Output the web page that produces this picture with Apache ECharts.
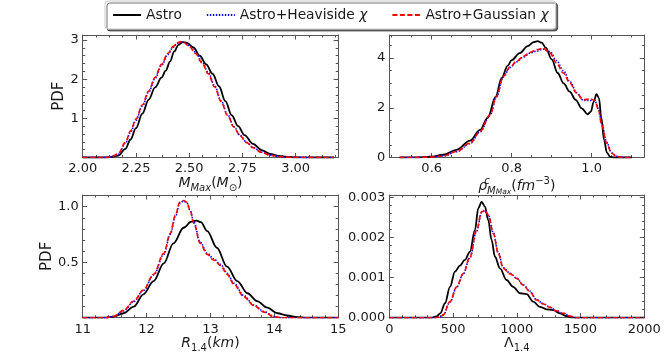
<!DOCTYPE html>
<html><head><meta charset="utf-8">
<script src="https://cdn.jsdelivr.net/npm/echarts@6/dist/echarts.min.js"></script>
<style>html,body{margin:0;padding:0;background:#fff}#c{width:664px;height:354px}</style>
</head><body><div id="c"></div>
<script>
// ---------- DATA ----------
const seriesNames = ['Astro', 'Astro+Heaviside χ', 'Astro+Gaussian χ'];

// Panel 1: M_Max
const mmaxTicks = [2.00, 2.25, 2.50, 2.75, 3.00];
const mmaxPdfTicks = [1, 2, 3];
const mmaxX_astro = [2.00,2.10,2.13,2.167,2.20,2.225,2.25,2.28,2.31,2.34,2.37,2.39,2.41,2.43,2.45,2.47,2.49,2.52,2.55,2.58,2.61,2.64,2.67,2.70,2.73,2.76,2.80,2.84,2.88,2.92,2.96,3.00,3.05,3.18];
const mmaxY_astro = [0,0,0.01,0.05,0.22,0.46,0.75,1.12,1.48,1.79,2.04,2.22,2.45,2.71,2.88,2.95,2.93,2.81,2.60,2.38,2.14,1.82,1.44,1.08,0.80,0.57,0.35,0.19,0.09,0.04,0.015,0.005,0,0];
const mmaxX_heav = [2.00,2.10,2.13,2.167,2.20,2.225,2.25,2.28,2.31,2.34,2.37,2.40,2.425,2.445,2.465,2.48,2.50,2.53,2.56,2.59,2.62,2.65,2.68,2.71,2.74,2.77,2.80,2.84,2.88,2.92,2.96,3.00,3.05,3.18];
const mmaxY_heav = [0,0,0.012,0.08,0.36,0.65,0.95,1.31,1.67,2.02,2.35,2.63,2.82,2.92,2.96,2.93,2.86,2.69,2.45,2.17,1.83,1.45,1.10,0.79,0.56,0.39,0.26,0.135,0.062,0.026,0.01,0.003,0,0];
const mmaxX_gaus = [2.00,2.10,2.13,2.167,2.20,2.225,2.25,2.28,2.31,2.34,2.37,2.40,2.425,2.445,2.46,2.475,2.50,2.53,2.56,2.59,2.62,2.65,2.68,2.71,2.74,2.77,2.80,2.84,2.88,2.92,2.96,3.00,3.05,3.18];
const mmaxY_gaus = [0,0,0.015,0.09,0.38,0.68,0.98,1.34,1.70,2.05,2.38,2.66,2.84,2.93,2.96,2.94,2.84,2.66,2.42,2.14,1.80,1.43,1.08,0.78,0.55,0.38,0.25,0.13,0.06,0.025,0.01,0.003,0,0];

// Panel 2: rho_c at M_Max
const rhoTicks = [0.6, 0.8, 1.0];
const rhoPdfTicks = [0, 2, 4];
const rhoX_astro = [0.52,0.56,0.596,0.629,0.662,0.696,0.721,0.74,0.76,0.775,0.79,0.80,0.82,0.84,0.855,0.865,0.875,0.885,0.90,0.915,0.93,0.945,0.96,0.975,0.99,0.998,1.005,1.012,1.018,1.024,1.031,1.038,1.046,1.055,1.10];
const rhoY_astro = [0,0.005,0.03,0.11,0.31,0.68,1.11,1.60,2.45,3.20,3.70,3.92,4.20,4.48,4.64,4.68,4.62,4.42,3.95,3.40,2.98,2.65,2.32,1.98,1.74,1.85,2.25,2.55,2.40,1.60,0.70,0.20,0.03,0,0];
const rhoX_heav = [0.52,0.56,0.596,0.629,0.662,0.696,0.721,0.746,0.762,0.779,0.796,0.812,0.829,0.846,0.862,0.879,0.896,0.912,0.929,0.946,0.962,0.979,0.996,1.008,1.017,1.025,1.037,1.05,1.062,1.079,1.10];
const rhoY_heav = [0,0.003,0.015,0.06,0.23,0.56,1.03,1.70,2.44,3.24,3.62,3.85,4.04,4.20,4.28,4.36,4.26,3.90,3.50,3.05,2.62,2.30,2.30,2.28,1.95,1.38,0.62,0.19,0.05,0,0];
const rhoX_gaus = [0.52,0.56,0.596,0.629,0.662,0.696,0.721,0.746,0.762,0.779,0.796,0.812,0.829,0.846,0.862,0.879,0.896,0.912,0.929,0.946,0.962,0.979,0.996,1.008,1.017,1.025,1.037,1.05,1.062,1.079,1.10];
const rhoY_gaus = [0,0.003,0.015,0.06,0.24,0.58,1.05,1.72,2.46,3.26,3.64,3.87,4.07,4.23,4.34,4.40,4.20,3.80,3.40,2.99,2.59,2.32,2.36,2.30,1.92,1.32,0.58,0.17,0.04,0,0];

// Panel 3: R_1.4
const rTicks = [11, 12, 13, 14, 15];
const rPdfTicks = [0.5, 1.0];
const rX_astro = [11.0,11.35,11.48,11.64,11.80,11.95,12.11,12.27,12.42,12.58,12.70,12.78,12.85,12.95,13.10,13.26,13.42,13.58,13.73,13.89,14.05,14.20,14.36,14.5,15.0];
const rY_astro = [0,0,0.01,0.04,0.10,0.21,0.33,0.49,0.67,0.81,0.865,0.875,0.86,0.78,0.63,0.46,0.33,0.22,0.15,0.09,0.04,0.02,0.005,0,0];
const rX_heav = [11.0,11.35,11.48,11.64,11.80,11.95,12.11,12.27,12.37,12.45,12.52,12.58,12.63,12.68,12.74,12.84,12.95,13.05,13.16,13.26,13.37,13.52,13.68,13.84,13.99,14.10,15.0];
const rY_heav = [0,0,0.01,0.06,0.145,0.245,0.385,0.57,0.75,0.91,1.03,1.05,1.035,0.97,0.86,0.68,0.58,0.53,0.48,0.40,0.31,0.20,0.115,0.055,0.012,0,0];
const rX_gaus = [11.0,11.35,11.48,11.64,11.80,11.95,12.11,12.27,12.37,12.45,12.52,12.58,12.63,12.68,12.74,12.84,12.95,13.05,13.16,13.26,13.37,13.52,13.68,13.84,13.99,14.10,15.0];
const rY_gaus = [0,0,0.01,0.066,0.15,0.25,0.39,0.58,0.76,0.92,1.04,1.055,1.04,0.97,0.85,0.67,0.57,0.52,0.47,0.39,0.30,0.19,0.11,0.05,0.01,0,0];

// Panel 4: Lambda_1.4
const lTicks = [0, 500, 1000, 1500, 2000];
const lPdfTicks = [0, 0.001, 0.002, 0.003];
const lX_astro = [0,330,370,400,437,476,515,554,593,633,672,698,724,750,776,802,829,868,920,972,1025,1077,1129,1181,1234,1286,1338,1391,1443,2000];
const lY_astro = [0,0,0.00003,0.00011,0.00036,0.00077,0.00115,0.0013,0.00144,0.00165,0.00219,0.00273,0.00289,0.00277,0.00244,0.00194,0.00152,0.00123,0.00094,0.00077,0.00061,0.00059,0.0004,0.00027,0.00021,0.00019,0.00011,0.00004,0,0];
const lX_heav = [0,360,400,423,476,528,580,633,685,724,750,776,816,855,894,946,998,1051,1103,1155,1208,1260,1312,1365,1417,1469,2000];
const lY_heav = [0,0,0.00002,0.00007,0.00039,0.00076,0.00109,0.0015,0.00216,0.00262,0.00267,0.00257,0.00212,0.00162,0.00125,0.00111,0.00099,0.00082,0.00066,0.00045,0.00035,0.00026,0.00017,0.00011,0.00004,0,0];
const lX_gaus = [0,360,400,423,476,528,580,633,685,724,750,776,816,855,894,946,998,1051,1103,1155,1208,1260,1312,1365,1417,1469,2000];
const lY_gaus = [0,0,0.00002,0.00007,0.0004,0.00077,0.0011,0.00152,0.00219,0.00264,0.00268,0.00256,0.0021,0.0016,0.00123,0.0011,0.00098,0.00081,0.00065,0.00044,0.00034,0.00026,0.00017,0.00011,0.00004,0,0];

// ---------- LAYOUT / STYLE ----------
const FONT = 'DejaVu Sans';
const TXT = '#1a1a1a';
const AX = '#555';
const grids = [
  {left: 82.7, top: 35, width: 255.5, height: 122.5},
  {left: 389.3, top: 35, width: 255, height: 122.5},
  {left: 82.7, top: 195, width: 255.5, height: 122.7},
  {left: 389.3, top: 195, width: 255, height: 122.7}
];
function steps(a, b, s) { const o = []; for (let k = 0; ; k++) { const v = +(a + k * s).toFixed(8); if (v > b + 1e-12) break; o.push(v); } return o; }

const richBase = {
  n: {fontSize: 14, fontFamily: FONT, color: TXT, lineHeight: 20},
  i: {fontSize: 14, fontFamily: FONT, fontStyle: 'italic', color: TXT, lineHeight: 20},
  s: {fontSize: 10, fontFamily: FONT, fontStyle: 'italic', color: TXT, verticalAlign: 'bottom', lineHeight: 12},
  su: {fontSize: 10, fontFamily: FONT, color: TXT, verticalAlign: 'bottom', lineHeight: 12},
  ss: {fontSize: 7.5, fontFamily: FONT, fontStyle: 'italic', color: TXT, verticalAlign: 'bottom', lineHeight: 9},
  sp: {fontSize: 10, fontFamily: FONT, color: TXT, verticalAlign: 'top', lineHeight: 14},
  spi: {fontSize: 10, fontFamily: FONT, fontStyle: 'italic', color: TXT, verticalAlign: 'top', lineHeight: 13, width: 0}
};

const xAxes = [], yAxes = [];
function addAxes(list, dim, g, min, max, majors, minors, labels, fmt, name, nameGap) {
  const pos1 = dim === 'x' ? 'bottom' : 'left', pos2 = dim === 'x' ? 'top' : 'right';
  const common = {type: 'value', gridIndex: g, min: min, max: max, splitLine: {show: false}, minorTick: {show: false}};
  const primaryIndex = list.length;
  const prim = Object.assign({}, common, {
    position: pos1,
    axisLine: {show: true, onZero: false, lineStyle: {color: AX, width: 1}},
    axisTick: {show: true, inside: true, length: 4.5, customValues: majors, lineStyle: {color: AX, width: 1}},
    axisLabel: {show: true, customValues: labels, formatter: fmt, margin: dim === 'x' ? 5 : 4, fontSize: 13, fontFamily: FONT, color: TXT}
  });
  if (name) {
    prim.name = name.text;
    prim.nameLocation = 'middle';
    prim.nameGap = nameGap;
    prim.nameRotate = name.rotate || 0;
    prim.nameTextStyle = name.style;
  }
  list.push(prim);
  list.push(Object.assign({}, common, {position: pos1, axisLine: {show: false, onZero: false}, axisLabel: {show: false},
    axisTick: {show: true, inside: true, length: 2.5, customValues: minors, lineStyle: {color: AX, width: 1}}}));
  list.push(Object.assign({}, common, {position: pos2, axisLine: {show: true, onZero: false, lineStyle: {color: AX, width: 1}}, axisLabel: {show: false},
    axisTick: {show: true, inside: true, length: 4.5, customValues: majors, lineStyle: {color: AX, width: 1}}}));
  list.push(Object.assign({}, common, {position: pos2, axisLine: {show: false, onZero: false}, axisLabel: {show: false},
    axisTick: {show: true, inside: true, length: 2.5, customValues: minors, lineStyle: {color: AX, width: 1}}}));
  return primaryIndex;
}
const pdfName = {text: 'PDF', rotate: 90, style: {fontSize: 15, fontFamily: FONT, color: TXT}};

const panels = [
  {x: [2.0, 3.2, mmaxTicks, steps(2.0, 3.2, 0.0625), mmaxTicks, v => v.toFixed(2),
       {text: '{i|M}{s|Max}{n|(}{i|M}{su|⊙}{n|)}', style: {rich: richBase}}, 13],
   y: [0, 3.13, [0, 1, 2, 3], steps(0, 3.13, 0.2), mmaxPdfTicks, v => String(v), pdfName, 12],
   data: [[mmaxX_astro, mmaxY_astro], [mmaxX_heav, mmaxY_heav], [mmaxX_gaus, mmaxY_gaus]]},
  {x: [0.494, 1.1315, rhoTicks, steps(0.5, 1.13, 0.05), rhoTicks, v => v.toFixed(1),
       {text: '{i|ρ}{spi|c}{s|M}{ss|Max}{n|(}{i|fm}{sp|−3}{n|)}', style: {rich: richBase}}, 13],
   y: [0, 4.93, rhoPdfTicks, steps(0, 4.93, 0.5), rhoPdfTicks, v => String(v), null, 0],
   data: [[rhoX_astro, rhoY_astro], [rhoX_heav, rhoY_heav], [rhoX_gaus, rhoY_gaus]]},
  {x: [11, 15, rTicks, steps(11, 15, 0.2), rTicks, v => String(v),
       {text: '{i|R}{su|1.4}{n|(}{i|km}{n|)}', style: {rich: richBase}}, 13],
   y: [0, 1.105, [0, 0.5, 1.0], steps(0, 1.105, 0.1), rPdfTicks, v => v.toFixed(1), pdfName, 25],
   data: [[rX_astro, rY_astro], [rX_heav, rY_heav], [rX_gaus, rY_gaus]]},
  {x: [0, 2000, lTicks, steps(0, 2000, 100), lTicks, v => String(v),
       {text: '{n|Λ}{su|1.4}', style: {rich: richBase}}, 13],
   y: [0, 0.00306, lPdfTicks, steps(0, 0.00306, 0.0002), lPdfTicks, v => v.toFixed(3), null, 0],
   data: [[lX_astro, lY_astro], [lX_heav, lY_heav], [lX_gaus, lY_gaus]]}
];

const styles = [
  {color: '#000000', width: 1.8, type: 'solid'},
  {color: '#0000ff', width: 1.6, type: [1.4, 1.6]},
  {color: '#ff0000', width: 1.6, type: [5, 2.5]}
];
const series = [];
panels.forEach((p, g) => {
  const xi = addAxes(xAxes, 'x', g, p.x[0], p.x[1], p.x[2], p.x[3], p.x[4], p.x[5], p.x[6], p.x[7]);
  const yi = addAxes(yAxes, 'y', g, p.y[0], p.y[1], p.y[2], p.y[3], p.y[4], p.y[5], p.y[6], p.y[7]);
  p.data.forEach((d, k) => {
    series.push({
      name: seriesNames[k], type: 'line', xAxisIndex: xi, yAxisIndex: yi,
      data: d[0].map((x, j) => [x, d[1][j]]),
      symbol: 'none', showSymbol: false, smooth: 0.35, smoothMonotone: 'x',
      lineStyle: {color: styles[k].color, width: styles[k].width, type: styles[k].type},
      itemStyle: {color: styles[k].color}, z: 2 + k
    });
  });
});

const chart = echarts.init(document.getElementById('c'), null, {renderer: 'canvas'});
chart.setOption({
  animation: false,
  backgroundColor: '#ffffff',
  grid: grids.map(g => Object.assign({containLabel: false, outerBoundsMode: 'none'}, g)),
  xAxis: xAxes,
  yAxis: yAxes,
  legend: {
    data: seriesNames, left: 105, top: 1, orient: 'horizontal',
    padding: [7, 7], itemWidth: 28, itemHeight: 14, itemGap: 24, itemTextGap: 12,
    itemStyle: {opacity: 0, borderWidth: 0},
    backgroundColor: '#ffffff', borderColor: '#cccccc', borderWidth: 1, borderRadius: 3,
    shadowColor: 'rgba(0,0,0,0.55)', shadowOffsetX: 2, shadowOffsetY: 2, shadowBlur: 0,
    formatter: n => n.replace('χ', '{g|χ}'),
    textStyle: {fontSize: 13.8, fontFamily: FONT, color: TXT,
      rich: {g: {fontSize: 13.8, fontFamily: FONT, fontStyle: 'italic', color: TXT}}}
  },
  series: series
});
</script></body></html>
